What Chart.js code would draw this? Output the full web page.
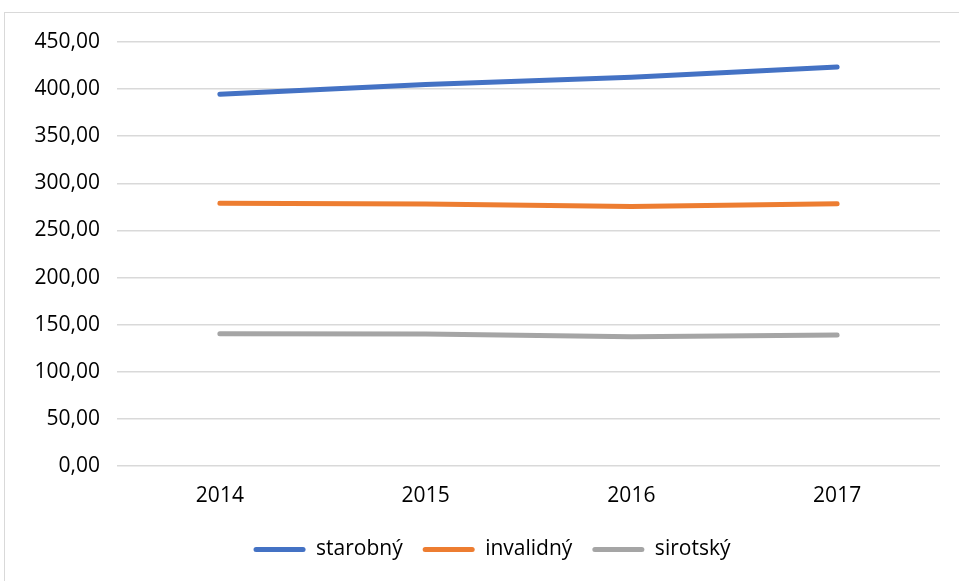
<!DOCTYPE html>
<html>
<head>
<meta charset="utf-8">
<script src="https://cdn.jsdelivr.net/npm/chart.js@4.4.1/dist/chart.umd.min.js"></script>
<style>
  html, body { margin: 0; padding: 0; background: #fff; overflow: hidden; }
  #frame { position: absolute; left: 4px; top: 12px; width: 1000px; height: 1000px; border: 1px solid #d9d9d9; box-sizing: border-box; }
  #wrap { position: absolute; left: 0; top: 0; width: 959px; height: 581px; }
</style>
</head>
<body>
<div id="frame"></div>
<div id="wrap"><canvas id="c" width="959" height="581"></canvas></div>
<script>
const categories = ['2014', '2015', '2016', '2017'];
const starobny = [394.5, 405.0, 412.5, 423.5];
const invalidny = [278.8, 278.0, 275.5, 278.3];
const sirotsky = [140.3, 140.2, 137.3, 139.0];
const seriesNames = ['starobný', 'invalidný', 'sirotský'];
const seriesColors = ['#4472C4', '#ED7D31', '#A5A5A5'];

const fontFamily = "'Open Sans', 'Noto Sans', sans-serif";
const textColor = '#000000';

const legendShift = {
  id: 'legendShift',
  afterLayout(chart) {
    if (chart.legend) { chart.legend.left += 22; chart.legend.right += 22; }
  }
};

const chart = new Chart(document.getElementById('c'), {
  type: 'line',
  data: {
    labels: categories,
    datasets: [starobny, invalidny, sirotsky].map((d, i) => ({
      label: seriesNames[i],
      data: d,
      borderColor: seriesColors[i],
      backgroundColor: seriesColors[i],
      borderWidth: 5,
      borderCapStyle: 'round',
      borderJoinStyle: 'round',
      pointRadius: 0,
      pointHoverRadius: 0,
      tension: 0
    }))
  },
  plugins: [legendShift],
  options: {
    responsive: false,
    animation: false,
    layout: { padding: { left: 0, right: 19, top: 42, bottom: 11 } },
    scales: {
      x: {
        offset: true,
        grid: { display: false, drawTicks: false },
        border: { display: false },
        afterFit: (scale) => { scale.height = 53; },
        ticks: { color: textColor, font: { family: fontFamily, size: 21 }, padding: 17 }
      },
      y: {
        min: 0, max: 450,
        grid: { color: '#d9d9d9', lineWidth: 1.5, drawTicks: false },
        border: { display: false },
        afterFit: (scale) => { scale.width = 117; },
        ticks: {
          stepSize: 50,
          padding: 17,
          color: textColor,
          font: { family: fontFamily, size: 21 },
          callback: (v) => Number(v).toFixed(2).replace('.', ',')
        }
      }
    },
    plugins: {
      tooltip: { enabled: false },
      legend: {
        position: 'bottom',
        labels: {
          color: textColor,
          font: { family: fontFamily, size: 21 },
          boxWidth: 52,
          boxHeight: 5,
          useBorderRadius: true,
          borderRadius: 2.5,
          padding: 20,
          generateLabels: (ch) => ch.data.datasets.map((ds, i) => ({
            text: ds.label,
            fillStyle: ds.borderColor,
            strokeStyle: ds.borderColor,
            lineWidth: 0,
            fontColor: textColor,
            hidden: false,
            datasetIndex: i,
            borderRadius: 2.5
          }))
        }
      }
    }
  }
});
</script>
</body>
</html>
